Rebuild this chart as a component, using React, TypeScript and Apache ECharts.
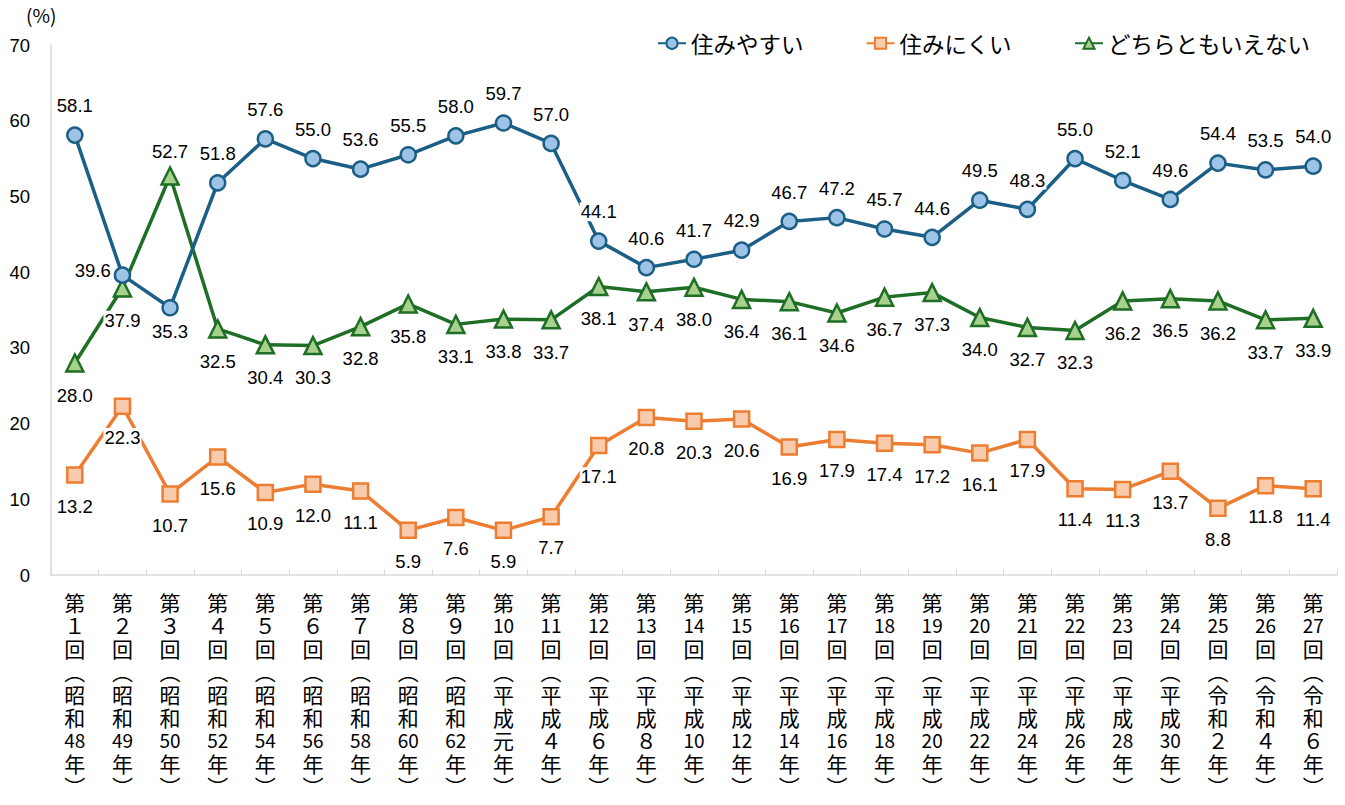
import React, { useEffect, useRef } from "react";
import * as echarts from "echarts";

const rounds = [1, 2, 3, 4, 5, 6, 7, 8, 9, 10, 11, 12, 13, 14, 15, 16, 17, 18, 19, 20, 21, 22, 23, 24, 25, 26, 27];
const eras = [
  "昭和48年", "昭和49年", "昭和50年", "昭和52年", "昭和54年", "昭和56年", "昭和58年", "昭和60年", "昭和62年",
  "平成元年", "平成4年", "平成6年", "平成8年", "平成10年", "平成12年", "平成14年", "平成16年", "平成18年",
  "平成20年", "平成22年", "平成24年", "平成26年", "平成28年", "平成30年", "令和2年", "令和4年", "令和6年",
];
const easy = [58.1, 39.6, 35.3, 51.8, 57.6, 55.0, 53.6, 55.5, 58.0, 59.7, 57.0, 44.1, 40.6, 41.7, 42.9, 46.7, 47.2, 45.7, 44.6, 49.5, 48.3, 55.0, 52.1, 49.6, 54.4, 53.5, 54.0];
const hard = [13.2, 22.3, 10.7, 15.6, 10.9, 12.0, 11.1, 5.9, 7.6, 5.9, 7.7, 17.1, 20.8, 20.3, 20.6, 16.9, 17.9, 17.4, 17.2, 16.1, 17.9, 11.4, 11.3, 13.7, 8.8, 11.8, 11.4];
const neither = [28.0, 37.9, 52.7, 32.5, 30.4, 30.3, 32.8, 35.8, 33.1, 33.8, 33.7, 38.1, 37.4, 38.0, 36.4, 36.1, 34.6, 36.7, 37.3, 34.0, 32.7, 32.3, 36.2, 36.5, 36.2, 33.7, 33.9];
const yTicks = [0, 10, 20, 30, 40, 50, 60, 70];
const seriesNames = ["住みやすい", "住みにくい", "どちらともいえない"];

const FW = "０１２３４５６７８９";
function toVertical(s: string): string {
  const parts: string[] = [];
  const re = /(\d+)|(.)/g;
  let m: RegExpExecArray | null;
  while ((m = re.exec(s))) {
    if (m[1]) {
      parts.push(m[1].length === 1 ? FW[Number(m[1])] : "{n|" + m[1] + "}");
    } else {
      parts.push(m[2]);
    }
  }
  return parts.join("\n");
}
const categories = rounds.map((r, i) => toVertical("第" + r + "回") + "\n︵\n" + toVertical(eras[i]) + "\n︶");

const labelFont = { fontFamily: "Liberation Sans, Arial, sans-serif", fontSize: 18.5, color: "#000" };

export default function App() {
  const ref = useRef<HTMLDivElement>(null);
  useEffect(() => {
    document.body.style.margin = "0";
    const chart = echarts.init(ref.current!, null, { renderer: "svg" });
    const lbl = (pos: string, extra: any = {}) => ({
      show: true,
      position: pos,
      distance: pos === "bottom" ? 13 : 11,
      formatter: (p: any) => Number(p.value).toFixed(1),
      backgroundColor: "#fff",
      padding: [0, 1],
      ...labelFont,
      ...extra,
    });
    chart.setOption({
      animation: false,
      backgroundColor: "#fff",
      grid: { left: 51, right: 8, top: 45, bottom: 230 },
      legend: {
        left: 652,
        top: 27,
        itemWidth: 28,
        itemHeight: 14,
        itemGap: 62,
        textStyle: { fontFamily: "Noto Sans CJK JP", fontSize: 22.5, color: "#000" },
        data: seriesNames,
      },
      graphic: [
        { type: "text", left: 26, top: 5, style: { text: "(%)", fontFamily: "Noto Sans CJK JP", fontSize: 19, fill: "#000" } },
      ],
      xAxis: {
        type: "category",
        data: categories,
        boundaryGap: true,
        axisLine: { lineStyle: { color: "#d9d9d9", width: 1.5 } },
        axisTick: { show: true, inside: true, length: 6, interval: 0, lineStyle: { color: "#d9d9d9" } },
        axisLabel: {
          interval: 0,
          margin: 15,
          fontFamily: "Noto Sans CJK JP",
          fontSize: 21,
          lineHeight: 23,
          color: "#000",
          verticalAlign: "top",
          rich: { n: { fontFamily: "Noto Sans CJK JP", fontSize: 19, lineHeight: 23, color: "#000" } },
        },
      },
      yAxis: {
        type: "value",
        min: yTicks[0],
        max: yTicks[yTicks.length - 1],
        interval: 10,
        axisLine: { show: true, lineStyle: { color: "#d9d9d9", width: 1.5 } },
        axisTick: { show: false },
        splitLine: { show: false },
        axisLabel: { margin: 21, ...labelFont },
      },
      series: [
        {
          name: seriesNames[0],
          type: "line",
          data: easy.map((v, i) => ({
            value: v,
            label: i === 1 ? lbl("left", { distance: 2, offset: [0, -5] }) : i === 2 ? lbl("bottom", { distance: 6 }) : lbl("top"),
          })),
          symbol: "circle",
          symbolSize: 15,
          lineStyle: { color: "#1b5e86", width: 3.5 },
          itemStyle: { color: "#9dc3e6", borderColor: "#1b5e86", borderWidth: 2.5 },
          z: 3,
        },
        {
          name: seriesNames[1],
          type: "line",
          data: hard.map((v) => ({ value: v, label: lbl("bottom") })),
          symbol: "rect",
          symbolSize: 15,
          lineStyle: { color: "#ed7d31", width: 3.5 },
          itemStyle: { color: "#f8cbad", borderColor: "#ed7d31", borderWidth: 2.5 },
          z: 2,
        },
        {
          name: seriesNames[2],
          type: "line",
          data: neither.map((v, i) => ({ value: v, label: i === 2 ? lbl("top", { distance: 5 }) : lbl("bottom") })),
          symbol: "triangle",
          symbolSize: 17,
          lineStyle: { color: "#1e6e26", width: 3.5 },
          itemStyle: { color: "#a9d18e", borderColor: "#1e6e26", borderWidth: 2.5 },
          z: 2,
        },
      ],
    });
    return () => chart.dispose();
  }, []);
  return <div ref={ref} style={{ width: 1345, height: 805, overflow: "hidden" }} />;
}
